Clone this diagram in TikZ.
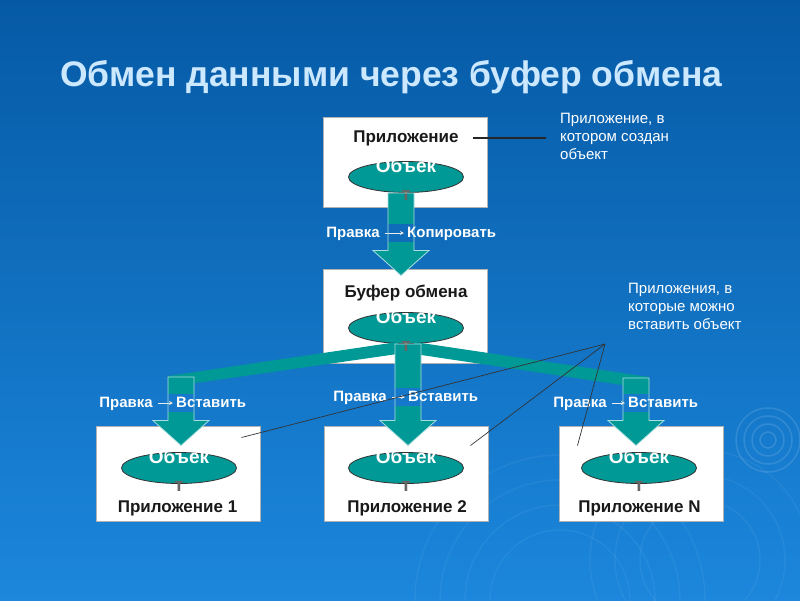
\documentclass[tikz,border=0pt]{standalone}
\usepackage{fontspec}
\setmainfont{Liberation Sans}
\usetikzlibrary{positioning,shapes.geometric,arrows.meta,calc}

\definecolor{bgtop}{RGB}{6,90,165}
\definecolor{bgbot}{RGB}{28,135,220}
\definecolor{objteal}{RGB}{0,153,150}
\definecolor{arredge}{RGB}{170,222,222}
\definecolor{titleblue}{RGB}{204,232,255}
\definecolor{lbldark}{RGB}{25,25,25}
\colorlet{bgrowtop}{bgbot!39!bgtop}
\colorlet{bgrowlow}{bgbot!67!bgtop}

\pgfdeclarelayer{back}
\pgfdeclarelayer{patch}
\pgfsetlayers{back,patch,main}

\tikzset{app box/.style={rectangle,fill=white,draw=gray!60,line width=1pt,minimum width=164pt,minimum height=94pt,inner sep=0pt},
         obj node/.style={ellipse,fill=objteal,draw=black!80,line width=0.8pt,minimum width=115pt,minimum height=31pt,inner sep=0pt},
         obj text/.style={white,font=\fontsize{19}{23}\selectfont\bfseries,align=center,inner sep=0pt},
         box label/.style={lbldark,font=\fontsize{17}{20}\selectfont\bfseries,inner sep=0pt},
         menu text/.style={white,font=\fontsize{15}{18}\selectfont\bfseries,inner sep=0pt,text height=11pt,text depth=3pt},
         note text/.style={white,font=\fontsize{15}{18}\selectfont,align=left,inner sep=0pt},
         arr fill/.style={fill=objteal},
         arr edge/.style={draw=arredge,line width=0.8pt},
         menu arr/.style={draw=white!85!gray,line width=0.7pt,-{Stealth[length=4pt,width=4pt]},shorten <=5pt,shorten >=3pt},
         call line/.style={draw=black!80,line width=0.7pt},
         ring/.style={draw=white,opacity=0.12,line width=1.5pt}
            }

% fat down arrow: shaft starts at the height of #2, tip at #3
\newcommand{\fatarrow}[3][]{%
  \path[#1] let \p1=(#2), \p2=(#3) in
    (\x2-13pt,\y1) -- (\x2-13pt,\y2+25pt) -- (\x2-28pt,\y2+25pt) -- (\x2,\y2)
    -- (\x2+28pt,\y2+25pt) -- (\x2+13pt,\y2+25pt) -- (\x2+13pt,\y1) -- cycle;}
\newcommand{\objword}{Объек\\[5pt]\textcolor{black!60}{т}}

\begin{document}
\begin{tikzpicture}[x=1pt,y=-1pt]
    \useasboundingbox (0,0) rectangle (800,600);
    \begin{pgfonlayer}{back}
    % background
    \shade[top color=bgtop,bottom color=bgbot] (0,0) rectangle (800,600);
    \begin{scope}
        \clip (0,0) rectangle (800,600);
        \foreach \r in {8,16,24,32} \draw[ring] (768,440) circle[radius=\r pt];
        \foreach \r in {70,95,120,145} \draw[ring,opacity=0.05] (560,600) circle[radius=\r pt];
        \foreach \r in {60,85,110} \draw[ring,opacity=0.05] (700,560) circle[radius=\r pt];
    \end{scope}

    % boxes
    \node[app box,minimum height=90pt] (app0) at (405,162) {};
    \node[app box] (buf) [below = 61pt of app0] {};
    \node[app box,minimum height=95pt] (app2) at (406,473.5) {};
    \node[app box,minimum height=95pt] (app1) [left = 63pt of app2] {};
    \node[app box,minimum height=95pt] (appN) [right = 70pt of app2] {};

    \node[obj node] (obj0) at (406,177) {};
    \node[obj node] (objbuf) at (406,328) {};
    \node[obj node] (obj1) at (179,468) {};
    \node[obj node] (obj2) at (406,468) {};
    \node[obj node] (objN) at (639,468) {};

    % arrows
    \coordinate (tip0) at ([xshift=-4pt,yshift=-7pt]buf.north);
    \coordinate (tip1) at ([xshift=3pt,yshift=-20pt]app1.north);
    \coordinate (tip2) at ([xshift=2pt,yshift=-20pt]app2.north);
    \coordinate (tipN) at ([xshift=-5pt,yshift=-20pt]appN.north);
    \coordinate (bend1) at (182,377);
    \coordinate (bendN) at (635,378);

    \fill[objteal] ([xshift=-8pt,yshift=2pt]objbuf.south) -- ([xshift=-14pt,yshift=1pt]bend1)
        -- ([xshift=-14pt,yshift=-10pt]bend1) -- ([xshift=-8pt,yshift=-10pt]objbuf.south) -- cycle;
    \fill[objteal] ([xshift=8pt,yshift=2pt]objbuf.south) -- ([xshift=14pt,yshift=1pt]bendN)
        -- ([xshift=14pt,yshift=-11pt]bendN) -- ([xshift=8pt,yshift=-10pt]objbuf.south) -- cycle;
    \fatarrow[arr fill]{obj0.south}{tip0}
    \fatarrow[arr fill]{objbuf.south}{tip2}
    \fatarrow[arr fill]{bend1}{tip1}
    \fatarrow[arr fill]{bendN}{tipN}
    \end{pgfonlayer}

    \node[titleblue,font=\fontsize{35.5}{42}\selectfont\bfseries,anchor=base west,inner sep=0pt] (title) at (60,86) {Обмен данными через буфер обмена};

    \node[box label,anchor=base] (lbl0) at (406,142) {Приложение};
    \node[box label,anchor=base] (lblbuf) at (406,297) {Буфер обмена};
    \node[box label,anchor=base] (lbl1) at (177.5,512) {Приложение 1};
    \node[box label,anchor=base] (lbl2) at (407,512) {Приложение 2};
    \node[box label,anchor=base] (lblN) at (639.5,512) {Приложение N};

    % menu commands
    \node[menu text,anchor=base east] (pr0) at (380,237) {Правка};
    \node[menu text] (vs0) [right = 27pt of pr0] {Копировать};
    \node[menu text,anchor=base east] (pr1) at (153,407) {Правка};
    \node[menu text] (vs1) [right = 23pt of pr1] {Вставить};
    \node[menu text,anchor=base east] (pr2) at (387,401) {Правка};
    \node[menu text] (vs2) [right = 21pt of pr2] {Вставить};
    \node[menu text,anchor=base east] (prN) at (607,407) {Правка};
    \node[menu text] (vsN) [right = 21pt of prN] {Вставить};

    \begin{pgfonlayer}{patch}
    \fill[bgrowtop] ([shift={(-3pt,2pt)}]pr0.north west) rectangle ([shift={(3pt,-2pt)}]vs0.south east);
    \fill[bgrowlow] ([shift={(-3pt,2pt)}]pr1.north west) rectangle ([shift={(3pt,-2pt)}]vs1.south east);
    \fill[bgrowlow] ([shift={(-3pt,2pt)}]pr2.north west) rectangle ([shift={(3pt,-2pt)}]vs2.south east);
    \fill[bgrowlow] ([shift={(-3pt,2pt)}]prN.north west) rectangle ([shift={(3pt,-2pt)}]vsN.south east);
    \end{pgfonlayer}

    \path[menu arr] (pr0) edge (vs0) (pr1) edge (vs1) (pr2) edge (vs2) (prN) edge (vsN);

    % object names
    \node[obj text,anchor=north] (t0) at ([yshift=3pt]obj0.north) {\objword};
    \node[obj text,anchor=north] (tbuf) at ([yshift=3pt]objbuf.north) {\objword};
    \node[obj text,anchor=north] (t1) at ([yshift=3pt]obj1.north) {\objword};
    \node[obj text,anchor=north] (t2) at ([yshift=3pt]obj2.north) {\objword};
    \node[obj text,anchor=north] (tN) at ([yshift=3pt]objN.north) {\objword};

    \fatarrow[arr edge]{obj0.south}{tip0}
    \fatarrow[arr edge]{objbuf.south}{tip2}
    \fatarrow[arr edge]{bend1}{tip1}
    \fatarrow[arr edge]{bendN}{tipN}

    % notes
    \node[note text,anchor=north west] (note1) at (560,113) {Приложение, в\\котором создан\\объект};
    \node[note text,anchor=north west] (note2) at (628,283) {Приложения, в\\которые можно\\вставить объект};

    \draw[black!85,line width=2.5pt,shorten <=14pt,shorten >=14pt] (lbl0.east) -- (lbl0.east -| note1.west);

    \coordinate (hub) at (605,344);
    \coordinate (end1) at ([xshift=-19pt,yshift=-12pt]app1.north east);
    \coordinate (end2) at ([xshift=-18pt,yshift=-20pt]app2.north east);
    \coordinate (endN) at ([xshift=19pt,yshift=-20pt]appN.north west);
    \path[call line] (hub) edge (end1) edge (end2) edge (endN);
\end{tikzpicture}
\end{document}
